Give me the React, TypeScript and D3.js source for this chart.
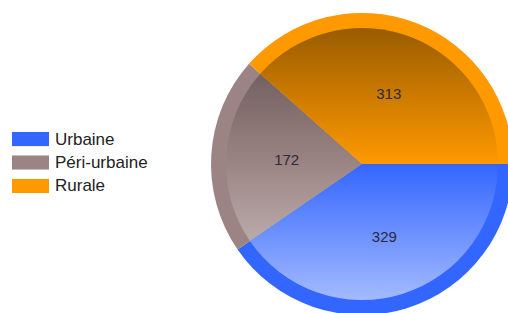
import React from "react";
import * as d3 from "d3";

const categories = ["Urbaine", "Péri-urbaine", "Rurale"];
const values = [329, 172, 313];
const colors = ["#3366ff", "#9c8484", "#ff9900"];

const W = 508;
const H = 313;
const cx = 362;
const cy = 164;
const rOuter = 151;
const rInner = 136;

export default function App() {
  const pie = d3
    .pie<number>()
    .sort(null)
    .startAngle(Math.PI / 2)
    .endAngle(Math.PI / 2 + 2 * Math.PI)
    .value((d) => d);
  const arcs = pie(values);
  const outerArc = d3.arc<d3.PieArcDatum<number>>().innerRadius(0).outerRadius(rOuter);
  const innerArc = d3.arc<d3.PieArcDatum<number>>().innerRadius(0).outerRadius(rInner);
  const labelArc = d3.arc<d3.PieArcDatum<number>>().innerRadius(rOuter * 0.5).outerRadius(rOuter * 0.5);

  const dark = (c: string) => {
    const h = d3.rgb(c);
    return d3.rgb(h.r * 0.6, h.g * 0.6, h.b * 0.6).formatHex();
  };
  const light = (c: string) => d3.interpolateRgb(c, "#ffffff")(0.55);

  const legendY = d3.scaleBand<string>().domain(categories).range([132, 193]).paddingInner(0.4);

  return (
    <svg width={W} height={H} style={{ position: "absolute", left: 0, top: 0 }}>
      <defs>
        {colors.map((c, i) => (
          <linearGradient
            key={i}
            id={`g${i}`}
            gradientUnits="userSpaceOnUse"
            x1={0}
            y1={-rInner}
            x2={0}
            y2={rInner}
          >
            <stop offset="0" stopColor={dark(c)} />
            <stop offset="0.5" stopColor={c} />
            <stop offset="1" stopColor={light(c)} />
          </linearGradient>
        ))}
      </defs>
      <rect width={W} height={H} fill="#ffffff" />
      <g transform={`translate(${cx},${cy})`}>
        {arcs.map((a, i) => (
          <path key={`o${i}`} d={outerArc(a) || ""} fill={colors[i]} />
        ))}
        {arcs.map((a, i) => (
          <path key={`i${i}`} d={innerArc(a) || ""} fill={`url(#g${i})`} />
        ))}
        {arcs.map((a, i) => {
          const [x, y] = labelArc.centroid(a);
          return (
            <text
              key={`l${i}`}
              x={x}
              y={y}
              textAnchor="middle"
              dominantBaseline="central"
              fontFamily="Liberation Sans, Arial, sans-serif"
              fontSize={15}
              fill="#2a2a3a"
            >
              {values[i]}
            </text>
          );
        })}
      </g>
      <g>
        {categories.map((c, i) => (
          <g key={c}>
            <rect x={12} y={legendY(c)} width={37} height={legendY.bandwidth()} fill={colors[i]} />
            <text
              x={55}
              y={(legendY(c) || 0) + legendY.bandwidth() / 2}
              dominantBaseline="central"
              fontFamily="Liberation Sans, Arial, sans-serif"
              fontSize={17}
              fill="#222"
            >
              {c}
            </text>
          </g>
        ))}
      </g>
    </svg>
  );
}
